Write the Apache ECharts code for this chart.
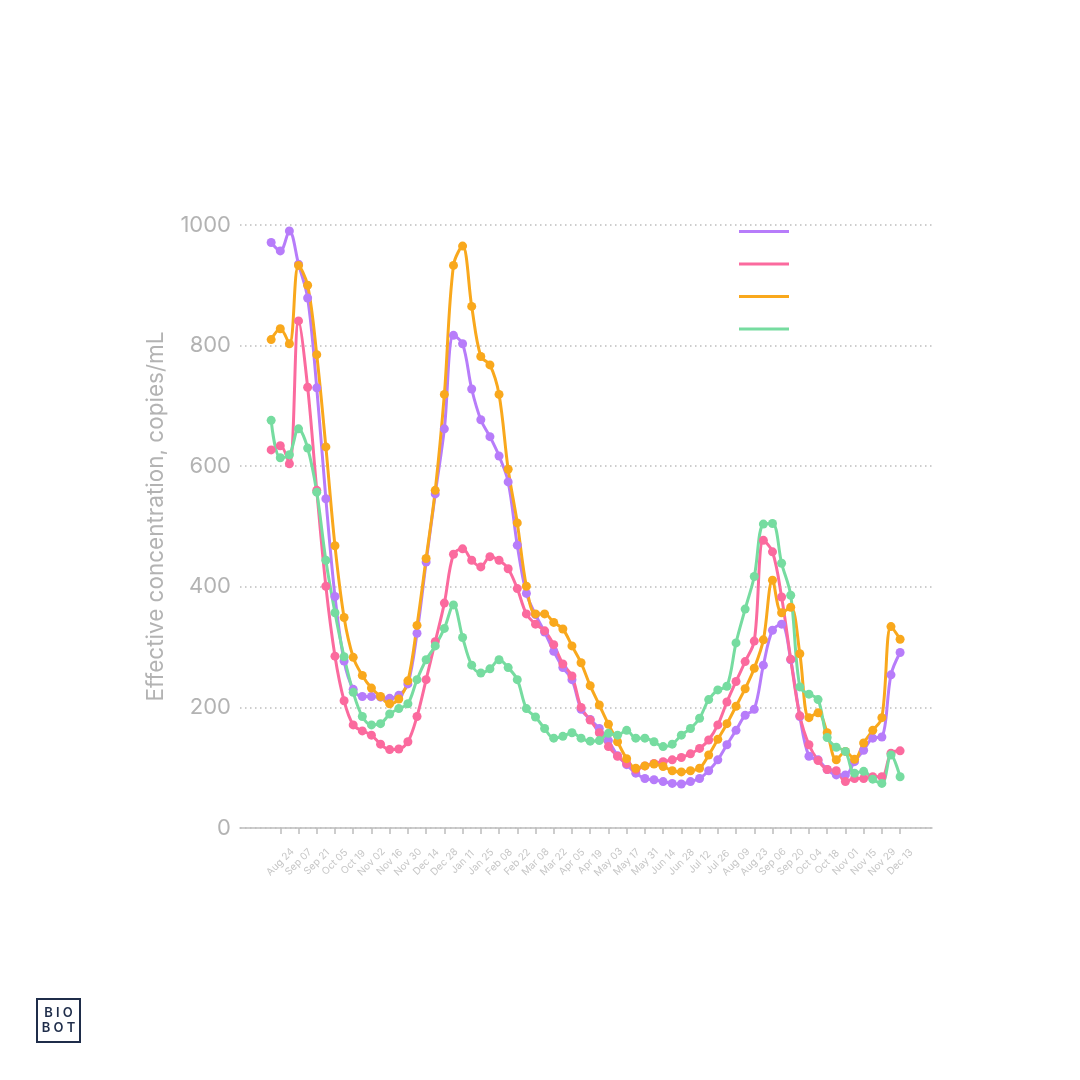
<!DOCTYPE html>
<html>
<head>
<meta charset="utf-8">
<script src="https://cdn.jsdelivr.net/npm/echarts@6/dist/echarts.min.js"></script>
<style>
  html, body { margin: 0; padding: 0; background: #fff; }
  #main { width: 1080px; height: 1080px; }
</style>
</head>
<body>
<div id="main"></div>
<script>
// weekly samples, week 1 = Aug 17 2022 ... week 70 = Dec 13 2023
const tickLabels = ['Aug 24', 'Sep 07', 'Sep 21', 'Oct 05', 'Oct 19', 'Nov 02', 'Nov 16', 'Nov 30',
  'Dec 14', 'Dec 28', 'Jan 11', 'Jan 25', 'Feb 08', 'Feb 22', 'Mar 08', 'Mar 22', 'Apr 05',
  'Apr 19', 'May 03', 'May 17', 'May 31', 'Jun 14', 'Jun 28', 'Jul 12', 'Jul 26', 'Aug 09',
  'Aug 23', 'Sep 06', 'Sep 20', 'Oct 04', 'Oct 18', 'Nov 01', 'Nov 15', 'Nov 29', 'Dec 13'];

const purple = [971, 957, 990, 935, 879, 730, 546, 384, 277, 230, 218, 218, 217, 215, 220, 239, 323, 441,
  554, 662, 817, 803, 728, 677, 649, 617, 574, 469, 389, 354, 325, 293, 266, 246, 197, 180,
  165, 145, 120, 105, 91, 82, 80, 77, 74, 73, 77, 82, 95, 113, 138, 162, 187, 197,
  270, 328, 338, 279, 185, 119, 113, 97, 88, 88, 110, 129, 149, 151, 254, 291];

const pink = [627, 634, 604, 841, 731, 560, 401, 285, 211, 171, 161, 154, 139, 130, 131, 143, 185, 246,
  309, 373, 454, 463, 444, 433, 450, 444, 430, 397, 355, 338, 327, 304, 272, 252, 200, 179,
  158, 135, 119, 107, 97, 103, 107, 110, 113, 117, 123, 132, 146, 171, 209, 243, 276, 310,
  477, 458, 383, 280, 186, 138, 112, 97, 95, 77, 82, 82, 85, 85, 124, 128];

const orange = [810, 828, 803, 933, 900, 785, 632, 468, 349, 283, 253, 232, 218, 206, 214, 244, 336, 447,
  560, 719, 933, 965, 865, 782, 768, 719, 595, 506, 401, 355, 355, 341, 330, 302, 274, 236,
  204, 172, 143, 115, 99, 103, 106, 102, 95, 93, 95, 99, 121, 147, 173, 202, 231, 265,
  312, 411, 357, 366, 289, 183, 191, 158, 113, 127, 114, 141, 162, 183, 334, 313];

const green = [676, 614, 619, 662, 630, 557, 444, 357, 284, 225, 185, 171, 173, 189, 198, 206, 246, 279,
  302, 331, 370, 316, 270, 257, 264, 279, 266, 246, 198, 184, 165, 149, 152, 158, 149, 144,
  145, 157, 154, 162, 149, 149, 143, 135, 139, 154, 165, 182, 213, 229, 235, 307, 363, 417,
  504, 505, 439, 386, 234, 222, 213, 150, 134, 127, 91, 94, 81, 74, 121, 85];

const seriesNames = ['Series A', 'Series B', 'Series C', 'Series D'];
const seriesColors = ['#b77cfa', '#fb6a9e', '#f9a81c', '#76dca0'];

const tickValues = tickLabels.map((_, i) => 2 + i * 2);
const toPairs = arr => arr.map((v, i) => [i + 1, v]);

const chart = echarts.init(document.getElementById('main'));

const option = {
  animation: false,
  backgroundColor: '#fff',
  grid: { left: 240, right: 148, top: 225, bottom: 252 },
  legend: {
    orient: 'vertical',
    left: 734,
    top: 225,
    icon: 'rect',
    itemWidth: 50,
    itemHeight: 3,
    itemGap: 29.5,
    formatter: () => '',
    data: seriesNames
  },
  xAxis: {
    type: 'value',
    min: -2.42,
    max: 73.5,
    axisLine: { lineStyle: { color: '#bdbdbd', width: 1.5 } },
    axisTick: {
      show: true,
      length: 6,
      customValues: tickValues,
      lineStyle: { color: '#bdbdbd', width: 1.5 }
    },
    axisLabel: {
      customValues: tickValues,
      rotate: 45,
      // labels sit centred below their tick, like the original
      align: 'center',
      verticalAlign: 'middle',
      margin: 34,
      fontSize: 10,
      fontFamily: 'Inter',
      color: '#c6c6c6',
      formatter: v => tickLabels[(v - 2) / 2] || ''
    },
    splitLine: { show: false }
  },
  yAxis: {
    type: 'value',
    min: 0,
    max: 1000,
    interval: 200,
    name: 'Effective concentration, copies/mL',
    nameLocation: 'middle',
    nameGap: 72,
    nameTextStyle: { fontSize: 22.5, fontFamily: 'Inter', color: '#b3b3b3', padding: [0, 0, 0, 20] },
    axisLine: { show: false },
    axisTick: { show: false },
    axisLabel: {
      fontSize: 22, fontFamily: 'Inter', color: '#b3b3b3', margin: 9,
      formatter: v => String(v)
    },
    splitLine: { lineStyle: { type: [1.5, 3.5], color: '#bdbdbd', width: 1.5 } }
  },
  series: [purple, pink, orange, green].map((arr, k) => ({
    name: seriesNames[k],
    type: 'line',
    data: toPairs(arr),
    smooth: 0.35,
    showAllSymbol: true,
    symbol: 'circle',
    symbolSize: 9,
    itemStyle: { color: seriesColors[k] },
    lineStyle: { color: seriesColors[k], width: 3 }
  })),
  graphic: [
    {
      type: 'rect',
      shape: { x: 37, y: 999, width: 43, height: 43 },
      style: { fill: 'none', stroke: '#1f2d4a', lineWidth: 2 }
    },
    {
      type: 'text',
      x: 58.5, y: 1013.5,
      style: { text: 'B I O', fill: '#1f2d4a', fontSize: 13, fontWeight: 600, fontFamily: 'Inter', align: 'center', verticalAlign: 'middle' }
    },
    {
      type: 'text',
      x: 58.5, y: 1028.5,
      style: { text: 'B O T', fill: '#1f2d4a', fontSize: 13, fontWeight: 600, fontFamily: 'Inter', align: 'center', verticalAlign: 'middle' }
    }
  ]
};

chart.setOption(option);
</script>
</body>
</html>
